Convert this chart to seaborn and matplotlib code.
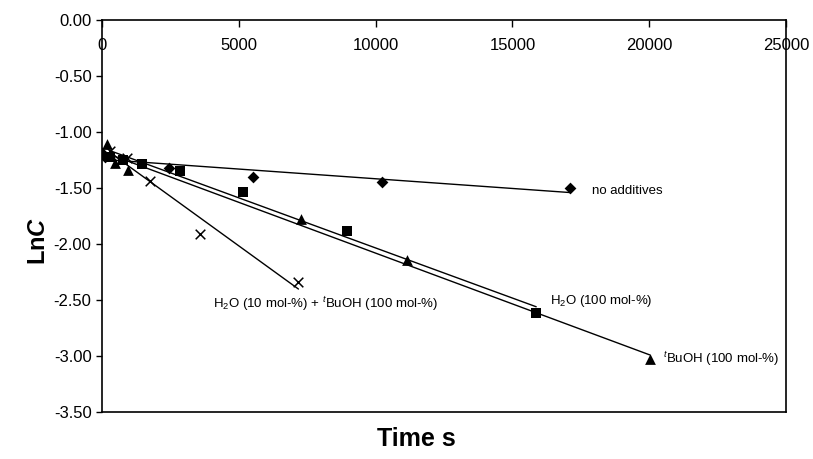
import numpy as np
import pandas as pd
import matplotlib
matplotlib.use('Agg')
import matplotlib.pyplot as plt
import seaborn as sns
from matplotlib.ticker import FormatStrFormatter

# data (time in s, ln C)
t_none = [0, 120, 2460, 5530, 10250, 17120]
lnc_none = [-1.19, -1.22, -1.32, -1.40, -1.45, -1.50]

t_h2o = [300, 780, 1450, 2850, 5170, 8970, 15870]
lnc_h2o = [-1.22, -1.25, -1.29, -1.35, -1.54, -1.88, -2.62]

t_buoh = [195, 480, 960, 7265, 11140, 20020]
lnc_buoh = [-1.11, -1.28, -1.34, -1.78, -2.14, -3.03]

t_mix = [300, 900, 1760, 3590, 7180]
lnc_mix = [-1.17, -1.23, -1.44, -1.91, -2.34]

x_ticks = [0, 5000, 10000, 15000, 20000, 25000]
y_ticks = [0.0, -0.5, -1.0, -1.5, -2.0, -2.5, -3.0, -3.5]

sns.set_style('white')
plt.rcParams['font.family'] = ['Liberation Sans', 'DejaVu Sans']
plt.rcParams['text.color'] = 'black'
plt.rcParams['xtick.color'] = 'black'
plt.rcParams['ytick.color'] = 'black'
plt.rcParams['axes.unicode_minus'] = False
plt.rcParams['mathtext.fontset'] = 'custom'
plt.rcParams['mathtext.rm'] = 'Liberation Sans'
plt.rcParams['mathtext.it'] = 'Liberation Sans:italic'
plt.rcParams['mathtext.bf'] = 'Liberation Sans:bold'
plt.rcParams['mathtext.bfit'] = 'Liberation Sans:italic:bold'

fig = plt.figure(figsize=(8.13, 4.59), dpi=100)
ax = fig.add_axes([102 / 813, 1 - 412 / 459, 684 / 813, 392 / 459])

series = [
    (t_none, lnc_none, 'D', 36),
    (t_h2o, lnc_h2o, 's', 50),
    (t_buoh, lnc_buoh, '^', 60),
    (t_mix, lnc_mix, 'x', 48),
]
for t, lnc, mk, sz in series:
    df = pd.DataFrame({'t': t, 'lnc': lnc})
    sns.regplot(data=df, x='t', y='lnc', ax=ax, ci=None, truncate=True,
                marker=mk, color='black',
                scatter_kws={'s': sz, 'linewidths': 1.1 if mk == 'x' else 0,
                             'alpha': 1},
                line_kws={'lw': 1.0})

ax.set_xlim(0, 25000)
ax.set_ylim(-3.5, 0)
ax.set_xticks(x_ticks)
ax.set_yticks(y_ticks)
ax.yaxis.set_major_formatter(FormatStrFormatter('%.2f'))
ax.xaxis.tick_top()
ax.tick_params(axis='x', direction='in', length=5, width=1, pad=-24, labelsize=12)
ax.tick_params(axis='y', direction='out', length=4, width=1, labelsize=12, left=True)
for s in ax.spines.values():
    s.set_color('black')
    s.set_linewidth(1.2)

ax.set_xlabel('')
ax.set_ylabel('')
fig.text(416 / 813, 1 - 439 / 459, 'Time s', ha='center', va='center',
         fontsize=18, fontweight='bold')
fig.text(38 / 813, 1 - 241 / 459, r'Ln$\mathbfit{C}$', ha='center', va='center',
         fontsize=17, fontweight='bold', rotation=90)

fs = 9.5
ax.text(17920, -1.527, 'no additives', fontsize=fs, va='center', ha='left')
ax.text(16360, -2.506, r'H$_2$O (100 mol-%)', fontsize=fs, va='center', ha='left')
ax.text(20520, -3.03, r'$^t$BuOH (100 mol-%)', fontsize=fs, va='center', ha='left')
ax.text(4070, -2.536, r'H$_2$O (10 mol-%) + $^t$BuOH (100 mol-%)', fontsize=fs,
        va='center', ha='left')

fig.savefig('out.png', dpi=100)
